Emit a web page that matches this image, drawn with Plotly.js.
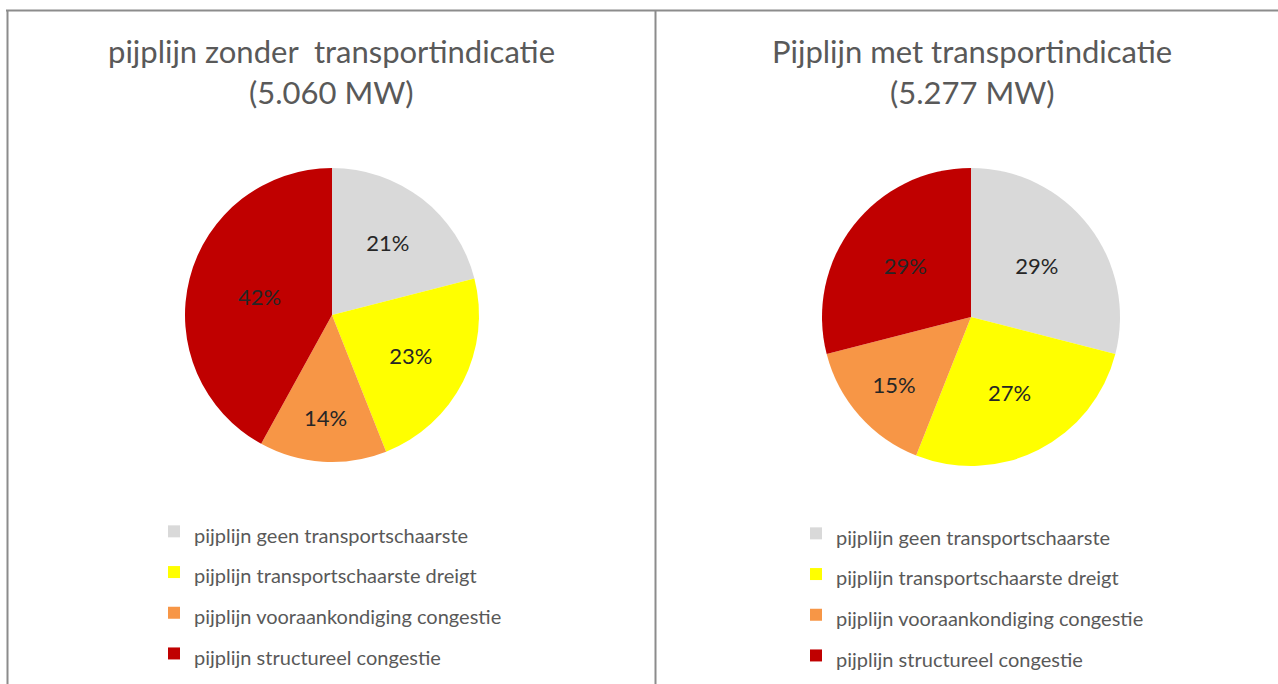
<!DOCTYPE html>
<html>
<head>
<meta charset="utf-8">
<script src="https://cdn.plot.ly/plotly-3.0.1.min.js"></script>
<style>html,body{margin:0;padding:0;background:#fff;}#chart{width:1278px;height:684px;}</style>
</head>
<body>
<div id="chart"></div>
<script>
const categories = [
  "pijplijn geen transportschaarste",
  "pijplijn transportschaarste dreigt",
  "pijplijn vooraankondiging congestie",
  "pijplijn structureel congestie"
];
const valuesZonder = [21, 23, 14, 42];
const valuesMet = [29, 27, 15, 29];
const sliceColors = ["#D9D9D9", "#FFFF00", "#F79646", "#C00000"];
const titleZonder = ["pijplijn zonder  transportindicatie", "(5.060 MW)"];
const titleMet = ["Pijplijn met transportindicatie", "(5.277 MW)"];

const FONT = "Lato, 'Open Sans', sans-serif";
// distinct span styles keep the two pies' legend entries separate
const labelsZonder = categories.map(c => '<span style="font-size:20px">' + c + '</span>');
const labelsMet = categories.map(c => '<span style="font-size:20px;">' + c + '</span>');

function pie(labels, values, domain, legendId) {
  return {
    type: "pie",
    labels: labels,
    values: values,
    sort: false,
    direction: "clockwise",
    rotation: 0,
    domain: domain,
    marker: {colors: sliceColors, line: {color: "#ffffff", width: 0}},
    textinfo: "percent",
    texttemplate: "%{value}%",
    textposition: "inside",
    insidetextorientation: "horizontal",
    textfont: {family: FONT, size: 22, color: "#262626"},
    hoverinfo: "label+percent",
    legend: legendId,
    showlegend: true
  };
}

const W = 1278, H = 684;
const data = [
  pie(labelsZonder, valuesZonder, {x: [185 / W, 479 / W], y: [222 / H, 516 / H]}, "legend"),
  pie(labelsMet, valuesMet, {x: [822 / W, 1120 / W], y: [218 / H, 516 / H]}, "legend2")
];

function titleAnn(lines, cx) {
  return lines.map((t, i) => ({
    text: t, x: cx / W, y: 1 - (51 + i * 41) / H,
    xref: "paper", yref: "paper", xanchor: "center", yanchor: "middle",
    showarrow: false, font: {family: FONT, size: 31, color: "#595959"}
  }));
}

const legendCommon = {
  orientation: "v",
  font: {family: FONT, size: 29, color: "#595959"},
  bgcolor: "rgba(0,0,0,0)",
  itemclick: false, itemdoubleclick: false,
  xanchor: "left", yanchor: "top", itemwidth: 30
};

const layout = {
  width: W, height: H,
  margin: {l: 0, r: 0, t: 0, b: 0},
  paper_bgcolor: "#ffffff",
  plot_bgcolor: "#ffffff",
  showlegend: true,
  legend: Object.assign({}, legendCommon, {x: 154 / W, y: 1 - 506 / H}),
  legend2: Object.assign({}, legendCommon, {x: 796 / W, y: 1 - 508 / H}),
  annotations: titleAnn(titleZonder, 332).concat(titleAnn(titleMet, 972)),
  shapes: [
    {type: "line", xref: "paper", yref: "paper", x0: 6 / W, x1: 1, y0: 1 - 10.5 / H, y1: 1 - 10.5 / H, line: {color: "#8C8C8C", width: 2}},
    {type: "line", xref: "paper", yref: "paper", x0: 7.5 / W, x1: 7.5 / W, y0: 0, y1: 1 - 10 / H, line: {color: "#8C8C8C", width: 2}},
    {type: "line", xref: "paper", yref: "paper", x0: 655.5 / W, x1: 655.5 / W, y0: 0, y1: 1 - 10 / H, line: {color: "#8C8C8C", width: 2}}
  ]
};

Plotly.newPlot("chart", data, layout, {displayModeBar: false, staticPlot: true});
</script>
</body>
</html>
